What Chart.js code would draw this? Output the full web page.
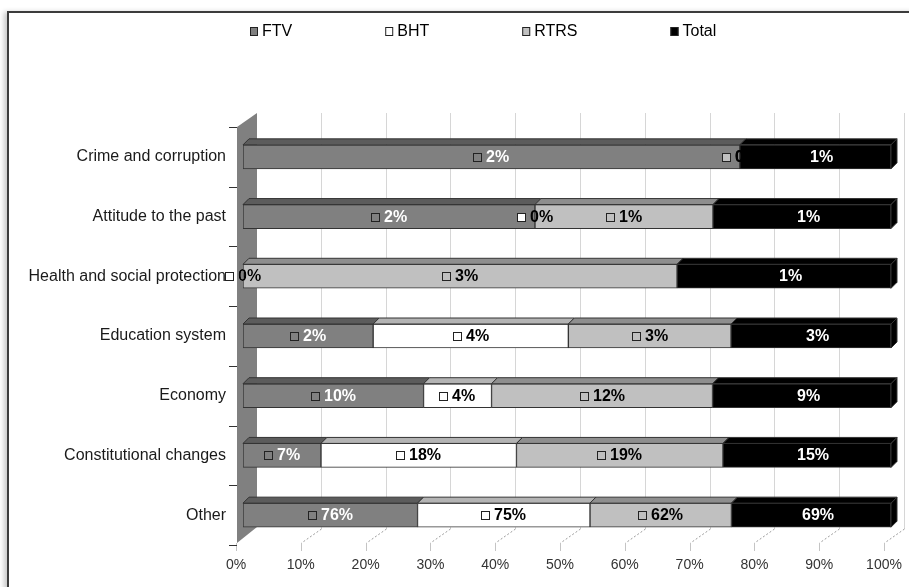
<!DOCTYPE html>
<html>
<head>
<meta charset="utf-8">
<script src="https://cdn.jsdelivr.net/npm/chart.js@4.4.0/dist/chart.umd.min.js"></script>
<style>
    html, body { margin: 0; padding: 0; background: #fff; }
    #contenedor { position: relative; width: 909px; height: 587px; overflow: hidden; }
    #marco {
        position: absolute; left: 7px; top: 11px; width: 930px; height: 610px;
        border-top: 2px solid #3c3c3c; border-left: 2px solid #3c3c3c;
        box-shadow: -4px 0 5px -1px rgba(0, 0, 0, 0.22);
    }
    canvas { position: absolute; left: 0; top: 0; }
</style>
</head>
<body>
<div id="contenedor">
    <div id="marco"></div>
    <canvas id="chartTemas" width="909" height="587"></canvas>
</div>
<script>
// Datos
const categorias = ['Crime and corruption', 'Attitude to the past', 'Health and social protection',
    'Education system', 'Economy', 'Constitutional changes', 'Other'];
const series = ['FTV', 'BHT', 'RTRS', 'Total'];
const valoresFTV = [2.3, 1.64, 0, 2.4, 9.56, 7.1, 75.9];
const valoresBHT = [0, 0, 0, 3.6, 3.6, 17.8, 75.0];
const valoresRTRS = [0, 1.0, 2.8, 3.0, 11.7, 18.8, 61.5];
const valoresTotal = [0.7, 1.0, 1.38, 2.95, 9.45, 15.3, 69.4];
const ticksX = [0, 10, 20, 30, 40, 50, 60, 70, 80, 90, 100];

const valores = [valoresFTV, valoresBHT, valoresRTRS, valoresTotal];

// Configuración de colores
const colores = ['#808080', '#ffffff', '#c0c0c0', '#000000'];
const coloresTapa = ['#5c5c5c', '#b4b4b4', '#8e8e8e', '#000000'];
const coloresTexto = ['#ffffff', '#000000', '#000000', '#ffffff'];
const bordesCuadro = ['#222222', '#222222', '#222222', '#000000'];
const fuente = '"Liberation Sans", Arial, sans-serif';

// Gráfico 100% apilado: cada fila se reparte sobre su suma
const sumas = categorias.map((c, j) => valores.reduce((s, v) => s + v[j], 0));
const datasets = series.map((nombre, i) => ({
    label: nombre,
    data: valores[i].map((v, j) => v / sumas[j] * 100),
    backgroundColor: colores[i],
    borderColor: '#333333',
    borderWidth: 1,
    borderSkipped: false,
    barThickness: 24
}));

const efecto3D = {
    id: 'efecto3D',
    beforeDatasetsDraw(chart) {
        const { ctx, chartArea: a, scales: { x, y } } = chart;
        ctx.save();
        ctx.lineWidth = 1;
        // rejilla del fondo y pies en perspectiva
        ticksX.forEach(v => {
            const px = Math.round(x.getPixelForValue(v)) + 0.5;
            if (v > 0) {
                ctx.strokeStyle = '#d6d6d6';
                ctx.setLineDash([]);
                ctx.beginPath();
                ctx.moveTo(px + 13, a.top - 14);
                ctx.lineTo(px + 13, a.bottom - 16);
                ctx.stroke();
                ctx.strokeStyle = '#9c9c9c';
                ctx.setLineDash([2, 2]);
                ctx.beginPath();
                ctx.moveTo(px + 13, a.bottom - 16);
                ctx.lineTo(px - 7, a.bottom - 2);
                ctx.stroke();
            }
            ctx.setLineDash([]);
            ctx.strokeStyle = '#c4c4c4';
            ctx.beginPath();
            ctx.moveTo(px - 7, a.bottom - 2);
            ctx.lineTo(px - 7, a.bottom + 6);
            ctx.stroke();
        });
        // pared izquierda
        ctx.fillStyle = '#808080';
        ctx.beginPath();
        ctx.moveTo(a.left - 6, a.top);
        ctx.lineTo(a.left + 14, a.top - 14);
        ctx.lineTo(a.left + 14, a.bottom - 18);
        ctx.lineTo(a.left - 6, a.bottom - 2);
        ctx.closePath();
        ctx.fill();
        // marcas entre categorías
        const banda = y.getPixelForValue(1) - y.getPixelForValue(0);
        ctx.strokeStyle = '#333333';
        for (let k = 0; k <= categorias.length; k++) {
            const py = Math.round(y.getPixelForValue(0) - banda / 2 + k * banda) + 0.5;
            ctx.beginPath();
            ctx.moveTo(a.left - 14, py);
            ctx.lineTo(a.left - 6, py);
            ctx.stroke();
        }
        ctx.restore();
    },
    afterDatasetsDraw(chart) {
        const { ctx } = chart;
        const d = 6;
        ctx.save();
        ctx.lineWidth = 1;
        ctx.strokeStyle = '#333333';
        // caras superiores y lateral
        series.forEach((s, i) => {
            chart.getDatasetMeta(i).data.forEach(el => {
                const p = el.getProps(['x', 'y', 'base', 'height'], true);
                const x0 = Math.min(p.x, p.base), x1 = Math.max(p.x, p.base);
                if (x1 - x0 < 0.5) return;
                const top = p.y - p.height / 2, bottom = p.y + p.height / 2;
                ctx.fillStyle = coloresTapa[i];
                ctx.beginPath();
                ctx.moveTo(x0, top);
                ctx.lineTo(x0 + d, top - d);
                ctx.lineTo(x1 + d, top - d);
                ctx.lineTo(x1, top);
                ctx.closePath();
                ctx.fill();
                ctx.stroke();
                if (i === series.length - 1) {
                    ctx.fillStyle = colores[i];
                    ctx.beginPath();
                    ctx.moveTo(x1, top);
                    ctx.lineTo(x1 + d, top - d);
                    ctx.lineTo(x1 + d, bottom - d);
                    ctx.lineTo(x1, bottom);
                    ctx.closePath();
                    ctx.fill();
                    ctx.stroke();
                }
            });
        });
        // etiquetas con su cuadrito de leyenda
        ctx.font = 'bold 16px ' + fuente;
        ctx.textBaseline = 'middle';
        ctx.textAlign = 'left';
        series.forEach((s, i) => {
            chart.getDatasetMeta(i).data.forEach((el, j) => {
                const p = el.getProps(['x', 'y', 'base'], true);
                const texto = Math.round(valores[i][j]) + '%';
                const ancho = 9 + 4 + ctx.measureText(texto).width;
                const inicio = Math.round((p.x + p.base) / 2 - ancho / 2);
                const cy = Math.round(p.y);
                ctx.fillStyle = colores[i];
                ctx.fillRect(inicio, cy - 4, 8, 8);
                ctx.strokeStyle = bordesCuadro[i];
                ctx.strokeRect(inicio + 0.5, cy - 3.5, 8, 8);
                ctx.fillStyle = coloresTexto[i];
                ctx.fillText(texto, inicio + 13, cy + 1);
            });
        });
        ctx.restore();
    },
    afterDraw(chart) {
        // leyenda superior
        const { ctx } = chart;
        ctx.save();
        ctx.font = '16px ' + fuente;
        ctx.textBaseline = 'middle';
        let px = chart.chartArea.left + 7;
        const py = 31;
        series.forEach((s, i) => {
            ctx.fillStyle = colores[i];
            ctx.fillRect(px, py - 4, 8, 9);
            ctx.strokeStyle = '#222222';
            ctx.lineWidth = 1;
            ctx.strokeRect(px + 0.5, py - 3.5, 7, 8);
            ctx.fillStyle = '#000000';
            ctx.fillText(s, px + 12, py + 1);
            px += 12 + ctx.measureText(s).width + 93;
        });
        ctx.restore();
    }
};

new Chart(document.getElementById('chartTemas'), {
    type: 'bar',
    data: {
        labels: categorias,
        datasets: datasets
    },
    options: {
        responsive: false,
        animation: false,
        indexAxis: 'y',
        layout: {
            padding: { top: 127, right: 18, bottom: 0, left: 0 }
        },
        plugins: {
            legend: { display: false },
            tooltip: { enabled: false }
        },
        scales: {
            x: {
                stacked: true,
                min: 0,
                max: 100,
                afterBuildTicks: function (scale) {
                    scale.ticks = ticksX.map(v => ({ value: v }));
                },
                afterFit: function (scale) {
                    scale.height = 42;
                    scale.paddingLeft = 0;
                    scale.paddingRight = 0;
                },
                grid: { display: false, drawTicks: false },
                border: { display: false },
                ticks: {
                    padding: 12,
                    labelOffset: -7,
                    color: '#333333',
                    font: { size: 14, family: fuente },
                    callback: function (value) {
                        return value + '%';
                    }
                }
            },
            y: {
                stacked: true,
                afterFit: function (scale) {
                    scale.width = 243;
                },
                grid: { display: false, drawTicks: false },
                border: { display: false },
                ticks: {
                    padding: 17,
                    color: '#1a1a1a',
                    font: { size: 16, family: fuente }
                }
            }
        }
    },
    plugins: [efecto3D]
});
</script>
</body>
</html>
